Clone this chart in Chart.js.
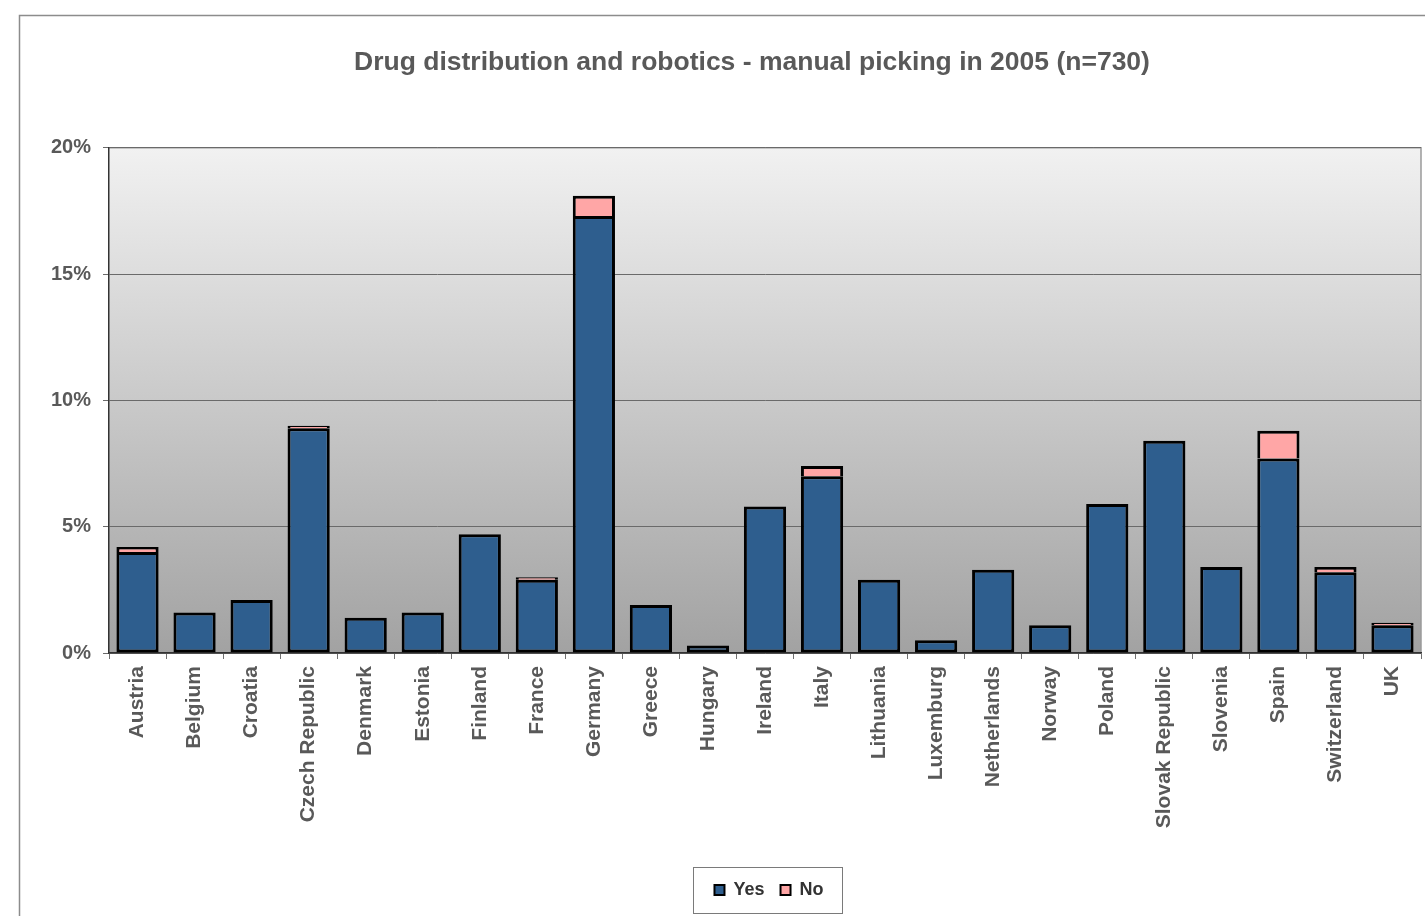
<!DOCTYPE html>
<html>
<head>
<meta charset="utf-8">
<script src="https://cdn.jsdelivr.net/npm/chart.js@4.4.0/dist/chart.umd.min.js"></script>
<style>
html,body{margin:0;padding:0;background:#fff;}
#wrap{width:1425px;height:916px;position:relative;}
</style>
</head>
<body>
<div id="wrap"><canvas id="c" width="1425" height="916"></canvas></div>
<script>
const categories = ["Austria","Belgium","Croatia","Czech Republic","Denmark","Estonia","Finland","France","Germany","Greece","Hungary","Ireland","Italy","Lithuania","Luxemburg","Netherlands","Norway","Poland","Slovak Republic","Slovenia","Spain","Switzerland","UK"];
const yesValues = [4.0,1.6,2.1,8.9,1.4,1.6,4.7,2.9,17.3,1.9,0.3,5.8,7.0,2.9,0.5,3.3,1.1,5.9,8.4,3.4,7.7,3.2,1.1];
const noValues  = [0.2,0,0,0.1,0,0,0,0.1,0.8,0,0,0,0.4,0,0,0,0,0,0,0,1.1,0.2,0.1];
const yTicks = [0,5,10,15,20];
const titleText = "Drug distribution and robotics - manual picking in 2005 (n=730)";

const FONT = "'Liberation Sans', Arial, sans-serif";
const GREY = "#595959";

const framePlugin = {
  id: 'frame',
  afterLayout(chart) {
    if (chart.titleBlock) { chart.titleBlock.left = 79; chart.titleBlock.right = 1425; }
    if (chart.legend) { chart.legend.left = 113; chart.legend.right = 1425; }
  },
  beforeDraw(chart) {
    const ctx = chart.ctx;
    const a = chart.chartArea;
    ctx.save();
    ctx.fillStyle = '#fff';
    ctx.fillRect(0,0,chart.width,chart.height);
    ctx.strokeStyle = '#8c8c8c';
    ctx.lineWidth = 1.5;
    ctx.beginPath();
    ctx.moveTo(19.5, chart.height);
    ctx.lineTo(19.5, 15.5);
    ctx.lineTo(chart.width, 15.5);
    ctx.stroke();
    const g = ctx.createLinearGradient(0, a.top, 0, a.bottom);
    g.addColorStop(0, '#f1f1f1');
    g.addColorStop(1, '#a2a2a2');
    ctx.fillStyle = g;
    ctx.fillRect(a.left, a.top, a.right - a.left, a.bottom - a.top);
    ctx.strokeStyle = '#9a9a9a';
    ctx.lineWidth = 1.5;
    ctx.beginPath();
    ctx.moveTo(a.left, a.top);
    ctx.lineTo(a.right, a.top);
    ctx.lineTo(a.right, a.bottom);
    ctx.stroke();
    ctx.restore();
  },
  afterDraw(chart) {
    const lg = chart.legend;
    if (!lg || !lg.legendHitBoxes || !lg.legendHitBoxes.length) return;
    const boxes = lg.legendHitBoxes;
    const first = boxes[0], last = boxes[boxes.length-1];
    const cy = first.top + first.height/2;
    const ctx = chart.ctx;
    ctx.save();
    ctx.strokeStyle = '#7a7a7a';
    ctx.lineWidth = 1;
    const l = Math.round(first.left - 21) + 0.5;
    const r = Math.round(last.left + last.width + 18) + 0.5;
    ctx.strokeRect(l, Math.round(cy - 23) + 0.5, r - l, 46);
    ctx.restore();
  }
};

new Chart(document.getElementById('c'), {
  type: 'bar',
  data: {
    labels: categories,
    datasets: [
      { label: 'Yes', data: yesValues, backgroundColor: '#2e5e8e', borderColor: '#000', borderWidth: 3, borderSkipped: false, barPercentage: 0.74, categoryPercentage: 1 },
      { label: 'No', data: noValues, backgroundColor: '#ffa6a6', borderColor: '#000', borderWidth: { top: 3, left: 3, right: 3, bottom: 0 }, borderSkipped: false, barPercentage: 0.74, categoryPercentage: 1 }
    ]
  },
  options: {
    responsive: false,
    animation: false,
    layout: { padding: { left: 0, right: 4, top: 0, bottom: 7 } },
    plugins: {
      title: {
        display: true, text: titleText, color: GREY,
        font: { family: FONT, size: 26.5, weight: 'bold' },
        padding: { top: 47, bottom: 69 }
      },
      legend: {
        position: 'bottom',
        labels: {
          color: '#333', boxWidth: 10, boxHeight: 10,
          font: { family: FONT, size: 18, weight: 'bold' },
          padding: 16,
          generateLabels(chart) {
            return chart.data.datasets.map((d, i) => ({
              text: d.label, fillStyle: d.backgroundColor, strokeStyle: '#000', lineWidth: 2,
              hidden: false, datasetIndex: i, fontColor: '#333'
            }));
          }
        }
      },
      tooltip: { enabled: false }
    },
    scales: {
      x: {
        stacked: true,
        grid: { display: true, drawOnChartArea: false, offset: true, color: '#707070', tickLength: 6, tickColor: '#707070' },
        border: { display: true, color: '#333', width: 1.5 },
        ticks: { color: GREY, font: { family: FONT, size: 21, weight: 'bold' }, maxRotation: 90, minRotation: 90, padding: 7, autoSkip: false },
        afterFit(s) { s.height = 212; }
      },
      y: {
        stacked: true, min: 0, max: 20,
        afterBuildTicks(s) { s.ticks = yTicks.map(v => ({ value: v })); },
        grid: { color: '#6a6a6a', lineWidth: 1, tickLength: 6, tickColor: '#6a6a6a' },
        border: { display: true, color: '#333', width: 1.5 },
        ticks: { color: GREY, font: { family: FONT, size: 20, weight: 'bold' }, padding: 12, callback: v => v + '%' },
        afterFit(s) { s.width = 109; }
      }
    }
  },
  plugins: [framePlugin]
});
</script>
</body>
</html>
